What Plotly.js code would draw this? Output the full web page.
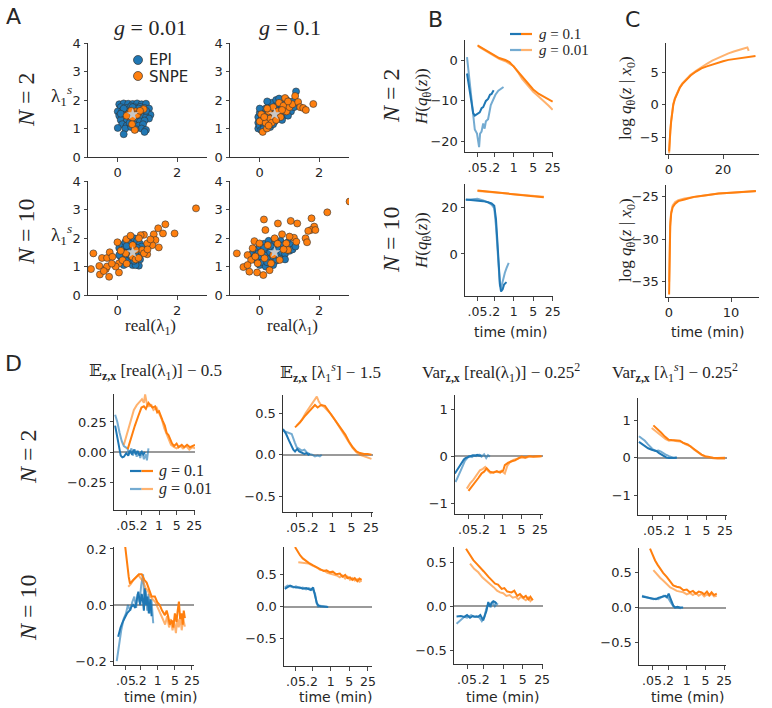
<!DOCTYPE html>
<html><head><meta charset="utf-8">
<script src="https://cdn.plot.ly/plotly-3.0.1.min.js"></script>
<style>html,body{margin:0;padding:0;background:#fff}#chart{width:772px;height:708px}</style>
</head><body><div id="chart"></div>
<script>
// ---------------- Panel A : posterior samples ----------------
const A1_epi_x = [0.05,0.2,0.35,0.5,0.65,0.8,0.95,0.1,0.3,0.45,0.6,0.75,0.9,1.05,0.0,0.15,0.25,0.4,0.55,0.7,0.85,1.0,1.1,0.05,0.2,0.35,0.65,0.8,0.95,1.05,0.1,0.3,0.45,0.6,0.75,0.9,0.15,0.3,0.55,0.7,0.85,0.0,0.25,0.45,0.8,0.95,0.2,0.9,0.6,0.4,0.7,0.5,0.2,0.95,0.1];
const A1_epi_y = [1.85,1.88,1.87,1.86,1.88,1.85,1.87,1.75,1.72,1.78,1.74,1.76,1.72,1.7,1.6,1.62,1.55,1.6,1.65,1.6,1.58,1.55,1.48,1.45,1.4,1.38,1.42,1.45,1.4,1.35,1.3,1.25,1.28,1.3,1.25,1.28,1.15,1.1,1.15,1.1,1.15,1.02,1.0,1.05,1.0,0.95,0.8,0.88,0.98,1.2,1.7,1.75,1.7,1.62,1.52];
const A1_snpe_x = [0.35,0.45,0.55,0.6,0.4,0.7,0.87,0.5,0.3,0.65,0.57,0.48,0.75,0.45];
const A1_snpe_y = [1.5,1.55,1.45,1.6,1.42,1.55,1.68,1.38,1.45,1.48,0.95,1.15,1.62,1.62];

const A2_epi_x = [-0.05,-0.05,-0.05,0.0,0.0,0.05,0.05,0.1,0.1,0.15,0.15,0.2,0.2,0.25,0.3,0.3,0.35,0.4,0.4,0.45,0.5,0.5,0.55,0.6,0.6,0.65,0.7,0.7,0.75,0.8,0.85,0.85,0.9,0.95,1.0,1.05,1.1,1.15,1.22,0.25,0.55,0.35,0.0,0.12,0.45,0.75,0.95,0.65];
const A2_epi_y = [1.0,1.2,1.4,1.55,1.1,1.3,0.95,1.45,1.2,1.05,1.6,1.35,1.7,1.15,1.5,1.8,1.3,1.6,1.9,1.4,1.7,1.25,1.55,1.85,1.35,1.65,1.95,1.5,1.75,1.45,1.9,1.6,2.0,1.7,1.85,1.6,1.95,1.75,2.3,1.95,2.0,1.05,1.7,0.98,1.15,1.3,1.45,2.05];
const A2_snpe_x = [0.1,0.24,0.0,0.05,0.2,0.3,0.35,0.45,0.5,0.6,0.65,0.7,0.8,0.85,0.9,1.0,1.1,1.19,1.29,1.36,1.46,1.55,1.8,0.4,0.15,0.55,0.25,0.75,0.95,0.3];
const A2_snpe_y = [0.88,1.0,1.25,1.5,1.2,1.6,1.35,1.75,1.5,1.6,1.9,1.4,1.8,2.07,1.6,1.75,1.85,2.14,1.93,1.75,1.72,1.65,1.86,1.2,1.4,1.3,1.7,1.65,1.95,1.1];

const A3_epi_x = [0.05,0.1,0.1,0.15,0.15,0.2,0.2,0.25,0.25,0.3,0.3,0.35,0.35,0.4,0.4,0.45,0.45,0.5,0.5,0.55,0.55,0.6,0.6,0.65,0.65,0.7,0.71,0.75,0.75,0.8,0.2,0.35,0.5,0.3,0.6,0.8,0.45,0.05,0.65,0.55];
const A3_epi_y = [1.65,1.5,1.35,1.75,1.2,1.6,1.4,1.85,1.1,1.5,1.3,1.7,1.95,1.4,1.15,1.6,1.8,1.3,1.05,1.99,1.55,1.75,1.2,1.4,1.9,1.6,1.03,1.25,1.8,1.5,1.05,1.2,1.7,1.72,1.05,1.7,1.35,1.4,1.65,1.2];
const A3_snpe_x = [2.63,1.91,1.6,1.36,1.52,1.21,1.27,1.38,1.16,0.99,0.88,0.82,0.99,-0.82,-0.9,-0.62,-0.6,-0.29,-0.4,-0.53,-0.36,-0.27,-0.01,-0.18,0.04,0.04,0.29,0.43,0.77,0.71,0.6,0.49,0.27,0.16,0.88,-0.07,-0.36,-0.47,1.0,0.6,0.3,0.1,1.1,0.7,-0.2,0.5];
const A3_snpe_y = [3.04,2.16,2.48,2.34,2.16,2.13,1.93,1.67,1.75,1.81,2.11,1.58,1.43,1.46,0.91,1.02,0.72,0.64,0.91,1.3,1.3,1.5,1.85,1.34,0.79,1.11,1.96,2.08,2.1,1.99,1.58,1.34,1.46,1.22,1.46,1.0,1.0,0.84,1.6,1.25,1.1,1.55,1.95,1.3,1.1,1.75];

const A4_epi_x = [-0.25,-0.2,-0.15,-0.1,-0.05,0.0,0.0,0.05,0.1,0.1,0.15,0.2,0.2,0.25,0.3,0.3,0.35,0.4,0.4,0.45,0.5,0.5,0.55,0.6,0.6,0.65,0.7,0.7,0.75,0.8,0.85,0.9,0.95,1.0,1.05,1.1,1.2,0.25,0.55,0.85,0.15,0.45];
const A4_epi_y = [1.45,1.3,1.6,1.2,1.45,1.7,1.05,1.35,1.55,1.15,1.8,1.4,1.0,1.6,1.25,1.9,1.5,1.7,1.1,1.35,1.95,1.55,1.2,1.75,1.4,1.6,1.9,1.3,1.5,1.75,1.45,1.65,1.85,1.55,1.75,1.6,1.7,1.15,1.85,1.25,1.65,1.05];
const A4_snpe_x = [3.02,2.27,1.74,1.83,1.72,1.87,1.63,1.54,1.59,1.26,1.04,0.61,0.14,0.19,0.75,1.15,1.23,-0.77,-0.55,-0.35,-0.09,0.12,0.33,-0.18,-0.01,-0.24,-0.41,-0.29,-0.07,-0.41,0.16,0.38,0.67,0.95,0.89,0.5,0.27,0.05,0.45,0.8,-0.15,0.6,1.0];
const A4_snpe_y = [3.28,2.9,2.69,2.4,2.28,2.28,2.25,1.99,1.85,2.51,2.6,2.51,2.65,2.28,2.13,2.01,1.87,1.46,0.98,0.82,0.79,0.7,0.87,1.89,1.81,1.64,1.4,1.23,1.11,1.05,1.29,1.11,1.23,1.58,1.81,1.99,1.75,1.5,1.4,1.6,1.35,1.8,2.05];
const truth_x = [0.5];
const truth_y = [1.5];

// ---------------- Panel B : entropy vs time (min) ----------------
const B1_epiHi_t = [0.021,0.025,0.03,0.035,0.04,0.05,0.06,0.07,0.08,0.1,0.12,0.14,0.16,0.19];
const B1_epiHi_v = [-3.3,-7,-11,-13,-13.6,-13.2,-12.8,-11.8,-11.5,-10,-9.5,-8.5,-8.3,-7.4];
const B1_epiLo_t = [0.021,0.024,0.028,0.033,0.04,0.048,0.053,0.057,0.062,0.07,0.08,0.09,0.1,0.12,0.15,0.18,0.22,0.28,0.35,0.43];
const B1_epiLo_v = [0.7,-3,-8,-13,-17,-18,-20,-21.3,-18,-17.5,-15.5,-16.8,-15,-14.5,-11,-9.8,-8.5,-7.5,-7,-6.6];
const B1_snpeHi_t = [0.05,0.08,0.12,0.2,0.3,0.5,0.7,1,1.5,2,3,5,8,12,18,25];
const B1_snpeHi_v = [3.6,2.8,2.2,1.3,0.5,0,-0.5,-1.6,-3,-4.2,-5.6,-7.2,-8.3,-9,-9.6,-10.2];
const B1_snpeLo_t = [0.055,0.08,0.12,0.2,0.3,0.5,0.7,1,1.5,2,3,5,8,12,18,25];
const B1_snpeLo_v = [3.3,2.6,2.0,1.0,0.3,-0.3,-0.8,-1.5,-3.2,-4.6,-6,-7.8,-9,-10,-11.2,-12.2];

const B2_epiHi_t = [0.019,0.03,0.05,0.08,0.12,0.16,0.2,0.23,0.26,0.29,0.32,0.35,0.4,0.45,0.5,0.55];
const B2_epiHi_v = [23.2,23,22.8,22.5,22,21.5,20.5,15,5,-5,-13,-16,-15,-13,-12.5,-12];
const B2_epiLo_t = [0.019,0.03,0.05,0.08,0.12,0.16,0.2,0.23,0.26,0.29,0.32,0.36,0.42,0.48,0.55,0.62,0.66];
const B2_epiLo_v = [23,23.3,23.5,22.8,22,21,19.5,12,2,-8,-13.5,-14,-10,-8,-6,-4.5,-3.8];
const B2_snpeHi_t = [0.05,0.1,0.2,0.5,1,2,5,12];
const B2_snpeHi_v = [27,26.6,26.2,25.7,25.3,25,24.6,24.2];
const B2_snpeLo_t = [0.05,0.1,0.2,0.5,1,2,5,12];
const B2_snpeLo_v = [26.8,26.5,26.1,25.6,25.3,24.9,24.6,24.4];

// ---------------- Panel C : log q(z|x0) vs time (min) ----------------
const C1_hi_t = [0.05,0.15,0.3,0.5,0.8,1.2,1.6,2.2,3,4,5,6.5,8,10,12,14,16,18,20,22,24,26,28,30,32];
const C1_hi_v = [-7.2,-6,-5.2,-4,-2.6,-1,0,0.9,1.8,2.6,3.2,3.9,4.5,5.1,5.6,5.9,6.2,6.5,6.7,6.9,7.0,7.2,7.3,7.4,7.5];
const C1_lo_t = [0.05,0.15,0.3,0.5,0.8,1.2,1.6,2.2,3,4,5,6.5,8,10,12,14,16,18,20,22,24,26,28,29,29.5];
const C1_lo_v = [-7.5,-6.2,-5.3,-4.1,-2.5,-1.1,0.1,1.0,1.9,2.7,3.3,3.9,4.6,5.2,5.8,6.3,6.8,7.2,7.5,7.9,8.2,8.5,8.7,8.8,8.3];
const C2_hi_t = [0.02,0.1,0.2,0.35,0.6,1,1.5,2.5,4,6,8,10,12,14];
const C2_hi_v = [-36.5,-31,-28.5,-27,-26.2,-25.8,-25.5,-25.3,-25.0,-24.8,-24.6,-24.5,-24.4,-24.3];
const C2_lo_t = [0.02,0.1,0.2,0.35,0.6,1,1.5,2.5,4,6,8,10,12,14];
const C2_lo_v = [-35,-30,-28,-26.8,-26,-25.6,-25.4,-25.2,-25.0,-24.8,-24.6,-24.5,-24.4,-24.35];

// ---------------- Panel D : moment errors vs time (min) ----------------
const D1_epiHi_t = [0.018,0.022,0.026,0.03,0.035,0.04,0.05,0.06,0.07,0.085,0.1,0.12,0.14,0.17,0.2,0.24,0.28];
const D1_epiHi_v = [0.22,0.12,0.03,-0.03,-0.045,-0.04,-0.01,-0.03,0.01,-0.02,0.02,-0.02,0.01,-0.03,0.0,-0.02,0.0];
const D1_epiLo_t = [0.018,0.022,0.027,0.033,0.04,0.045,0.055,0.065,0.08,0.09,0.11,0.13,0.15,0.18,0.21,0.25,0.3,0.33,0.38];
const D1_epiLo_v = [0.31,0.25,0.16,0.09,0.05,0.04,0.03,-0.01,0.03,-0.03,0.02,-0.04,0.0,-0.05,0.01,-0.06,-0.02,-0.07,0.03];
const D1_snpeHi_t = [0.057,0.08,0.11,0.15,0.2,0.25,0.3,0.38,0.45,0.55,0.7,0.85,1.0,1.2,1.4,1.7,2.0,2.4,2.8,3.3,4,5,6,8,10,13,17,22,27];
const D1_snpeHi_v = [0.024,0.13,0.22,0.3,0.37,0.38,0.36,0.41,0.39,0.37,0.38,0.33,0.34,0.29,0.26,0.22,0.16,0.14,0.1,0.07,0.05,0.07,0.04,0.06,0.04,0.06,0.04,0.05,0.06];
const D1_snpeLo_t = [0.04,0.06,0.08,0.1,0.13,0.17,0.21,0.25,0.28,0.33,0.4,0.5,0.6,0.8,1.0,1.3,1.6,2.0,2.5,3,4,5,7,9,12,16,21,27];
const D1_snpeLo_v = [0.06,0.18,0.28,0.35,0.39,0.42,0.44,0.41,0.48,0.4,0.38,0.39,0.35,0.37,0.32,0.27,0.2,0.15,0.11,0.06,0.04,0.03,0.05,0.03,0.05,0.02,0.04,0.03];

const D2_epiHi_t = [0.017,0.022,0.028,0.034,0.04,0.046,0.055,0.065,0.08,0.1,0.12,0.14,0.16];
const D2_epiHi_v = [0.31,0.25,0.17,0.1,0.06,0.04,0.07,0.04,0.03,0.01,0.02,0.0,0.01];
const D2_epiLo_t = [0.017,0.025,0.035,0.045,0.053,0.065,0.08,0.1,0.12,0.15,0.19,0.24,0.3,0.36,0.42];
const D2_epiLo_v = [0.29,0.27,0.25,0.15,0.09,0.07,0.05,0.06,0.03,0.01,0.0,-0.02,-0.01,-0.02,0.0];
const D2_snpeHi_t = [0.046,0.07,0.1,0.15,0.2,0.24,0.3,0.4,0.55,0.7,0.9,1.2,1.6,2.2,3.0,4,5.5,7.5,10,14,19,26];
const D2_snpeHi_v = [0.33,0.39,0.46,0.53,0.57,0.6,0.57,0.6,0.59,0.54,0.5,0.44,0.37,0.3,0.24,0.16,0.09,0.04,0.02,0.01,0.01,0.0];
const D2_snpeLo_t = [0.053,0.08,0.11,0.15,0.2,0.25,0.28,0.33,0.4,0.5,0.7,0.9,1.2,1.6,2.2,3,4,5.5,7.5,10,14,19,26];
const D2_snpeLo_v = [0.35,0.42,0.5,0.57,0.63,0.67,0.7,0.64,0.6,0.58,0.53,0.49,0.43,0.36,0.29,0.22,0.15,0.08,0.03,0.0,-0.02,-0.04,-0.05];

const D3_epiHi_t = [0.016,0.02,0.025,0.03,0.035,0.04,0.05,0.06,0.075,0.09,0.11,0.13,0.16];
const D3_epiHi_v = [-0.37,-0.28,-0.2,-0.12,-0.07,-0.04,-0.02,0.0,0.02,0.01,0.03,0.01,0.02];
const D3_epiLo_t = [0.017,0.021,0.026,0.032,0.038,0.045,0.055,0.07,0.085,0.1,0.13,0.16,0.2,0.24,0.28,0.33];
const D3_epiLo_v = [-0.55,-0.45,-0.32,-0.2,-0.1,-0.05,0.0,-0.02,0.02,0.0,0.03,-0.01,0.04,-0.04,0.02,-0.01];
const D3_snpeHi_t = [0.052,0.07,0.09,0.12,0.16,0.2,0.25,0.33,0.45,0.6,0.8,1.05,1.2,1.6,2.2,2.9,4,5.1,7,10,14,20,29];
const D3_snpeHi_v = [-0.74,-0.65,-0.56,-0.47,-0.37,-0.33,-0.26,-0.33,-0.35,-0.32,-0.35,-0.3,-0.19,-0.14,-0.11,-0.09,-0.04,-0.01,-0.03,0.0,-0.01,0.0,0.0];
const D3_snpeLo_t = [0.045,0.06,0.08,0.1,0.14,0.18,0.22,0.28,0.35,0.5,0.7,0.9,1.2,1.5,1.9,2.5,3.5,5,7,10,14,20,26];
const D3_snpeLo_v = [-0.69,-0.58,-0.5,-0.42,-0.3,-0.27,-0.23,-0.31,-0.36,-0.33,-0.34,-0.31,-0.37,-0.2,-0.12,-0.08,-0.05,-0.03,-0.04,-0.01,-0.02,0.0,0.0];

const D4_epiHi_t = [0.015,0.02,0.026,0.033,0.045,0.055,0.069,0.085,0.107,0.13,0.16,0.2,0.26,0.32,0.39];
const D4_epiHi_v = [0.42,0.36,0.3,0.25,0.21,0.19,0.17,0.12,0.08,0.04,0.0,-0.01,0.0,-0.01,0.0];
const D4_epiLo_t = [0.015,0.02,0.025,0.032,0.04,0.05,0.065,0.08,0.1,0.13,0.16,0.2,0.25,0.3,0.39];
const D4_epiLo_v = [0.57,0.5,0.45,0.36,0.28,0.22,0.18,0.19,0.16,0.1,0.07,0.04,0.02,-0.01,0.01];
const D4_snpeHi_t = [0.052,0.07,0.1,0.14,0.19,0.25,0.33,0.42,0.51,0.65,0.8,1.0,1.2,1.6,2.2,3.3,4.5,6,9,13,18,25];
const D4_snpeHi_v = [0.86,0.78,0.67,0.56,0.48,0.47,0.46,0.47,0.45,0.4,0.38,0.35,0.31,0.24,0.16,0.08,0.04,0.02,0.0,-0.01,0.0,0.0];
const D4_snpeLo_t = [0.045,0.06,0.08,0.11,0.15,0.2,0.27,0.35,0.45,0.6,0.8,1.0,1.3,1.7,2.3,3.3,4.5,6,9,13,18,25];
const D4_snpeLo_v = [0.79,0.72,0.64,0.56,0.49,0.45,0.46,0.44,0.43,0.42,0.36,0.33,0.3,0.22,0.14,0.07,0.02,0.0,-0.02,-0.03,-0.03,-0.03];

const D5_epiHi_t = [0.024,0.03,0.037,0.045,0.055,0.073,0.085,0.1,0.12,0.14,0.16,0.19,0.22,0.25,0.27,0.3,0.34,0.38,0.43,0.5,0.56];
const D5_epiHi_v = [-0.113,-0.08,-0.06,-0.042,-0.03,-0.018,-0.005,0.0,-0.01,0.02,0.048,0.0,0.04,0.01,-0.02,0.06,0.0,0.03,-0.03,0.02,-0.04];
const D5_epiLo_t = [0.021,0.026,0.032,0.04,0.05,0.06,0.075,0.09,0.11,0.13,0.15,0.18,0.21,0.25,0.28,0.32,0.37,0.42,0.48,0.55,0.65];
const D5_epiLo_v = [-0.2,-0.14,-0.09,-0.05,-0.03,0.0,-0.02,0.01,0.03,-0.01,0.04,0.01,0.07,0.11,0.02,0.05,-0.02,0.04,-0.03,0.02,-0.065];
const D5_snpeHi_t = [0.045,0.055,0.065,0.073,0.09,0.11,0.136,0.17,0.22,0.28,0.35,0.45,0.56,0.76,0.95,1.2,1.5,1.95,2.3,2.65,3.1,3.7,4.3,5,5.8,6.5,7.3,8.2,9.3,10.5,11.5,12.8];
const D5_snpeHi_v = [0.22,0.15,0.1,0.077,0.085,0.095,0.1,0.11,0.11,0.09,0.08,0.05,0.03,0.03,0.01,0.0,-0.02,-0.036,-0.02,-0.04,-0.07,-0.054,-0.08,-0.03,-0.06,-0.02,0.012,-0.05,-0.03,-0.07,-0.02,-0.047];
const D5_snpeLo_t = [0.062,0.08,0.1,0.13,0.16,0.2,0.25,0.32,0.4,0.5,0.65,0.8,1.0,1.3,1.6,2.0,2.4,2.9,3.4,4,4.7,5.5,6.3,7.2,8.2,9.5,11,12.8];
const D5_snpeLo_v = [0.065,0.075,0.09,0.1,0.107,0.095,0.085,0.06,0.05,0.03,0.02,0.01,-0.01,-0.03,-0.05,-0.07,-0.04,-0.08,-0.05,-0.09,-0.06,-0.1,-0.05,-0.08,-0.04,-0.09,-0.05,-0.077];

const D6_epiHi_t = [0.019,0.024,0.03,0.04,0.05,0.07,0.09,0.12,0.15,0.18,0.22,0.26,0.3,0.34,0.42,0.55,0.81];
const D6_epiHi_v = [0.28,0.31,0.33,0.31,0.3,0.3,0.28,0.29,0.28,0.26,0.3,0.17,0.06,0.02,0.0,0.0,-0.01];
const D6_epiLo_t = [0.019,0.024,0.03,0.04,0.05,0.07,0.09,0.12,0.15,0.18,0.22,0.26,0.3,0.34,0.42,0.55,0.75];
const D6_epiLo_v = [0.3,0.33,0.32,0.3,0.32,0.29,0.3,0.27,0.29,0.28,0.26,0.2,0.05,0.0,0.01,0.0,0.0];
const D6_snpeHi_t = [0.046,0.055,0.071,0.09,0.11,0.15,0.22,0.3,0.4,0.55,0.7,0.94,1.2,1.6,2.2,2.8,3.5,4.3,5.3,6.5,8,10,12,14.5];
const D6_snpeHi_v = [0.94,0.88,0.81,0.76,0.73,0.69,0.65,0.62,0.6,0.56,0.57,0.54,0.55,0.51,0.52,0.47,0.5,0.45,0.46,0.42,0.45,0.4,0.44,0.42];
const D6_snpeLo_t = [0.061,0.08,0.11,0.145,0.2,0.29,0.4,0.55,0.75,1.0,1.3,1.7,2.2,2.8,3.5,4.3,5.3,6.5,8,10,12,14.5];
const D6_snpeLo_v = [0.7,0.69,0.69,0.68,0.65,0.62,0.58,0.57,0.53,0.52,0.5,0.49,0.46,0.49,0.44,0.47,0.42,0.45,0.41,0.43,0.39,0.41];

const D7_epiHi_t = [0.021,0.03,0.04,0.05,0.064,0.08,0.1,0.125,0.15,0.19,0.22,0.25,0.29,0.33,0.38,0.44,0.51,0.58];
const D7_epiHi_v = [-0.115,-0.11,-0.12,-0.1,-0.13,-0.11,-0.12,-0.12,-0.1,-0.16,-0.1,-0.05,0.05,0.0,0.04,0.06,0.05,0.03];
const D7_epiLo_t = [0.021,0.03,0.04,0.05,0.07,0.09,0.11,0.14,0.17,0.21,0.25,0.3,0.35,0.42,0.5,0.58,0.65];
const D7_epiLo_v = [-0.2,-0.15,-0.12,-0.13,-0.1,-0.12,-0.11,-0.13,-0.17,-0.12,-0.02,0.03,-0.01,0.05,0.0,0.03,0.02];
const D7_snpeHi_t = [0.046,0.06,0.084,0.11,0.146,0.2,0.29,0.38,0.51,0.65,0.88,1.1,1.4,2.0,2.5,3.2,4,5.3,6.5,8,9.5,11.5];
const D7_snpeHi_v = [0.66,0.6,0.53,0.49,0.45,0.4,0.34,0.3,0.26,0.25,0.2,0.21,0.17,0.16,0.18,0.12,0.14,0.1,0.12,0.08,0.11,0.07];
const D7_snpeLo_t = [0.064,0.09,0.127,0.18,0.25,0.33,0.45,0.6,0.77,1.0,1.3,1.7,2.2,2.8,3.5,4.3,5.2,6.5,8,9.5,11.5];
const D7_snpeLo_v = [0.49,0.43,0.39,0.33,0.29,0.26,0.22,0.18,0.16,0.15,0.12,0.13,0.1,0.11,0.08,0.11,0.09,0.07,0.1,0.06,0.09];

const D8_epiHi_t = [0.021,0.027,0.035,0.045,0.056,0.07,0.085,0.1,0.13,0.16,0.18,0.21,0.24,0.27,0.31,0.36,0.45,0.56,0.73];
const D8_epiHi_v = [0.16,0.15,0.14,0.13,0.13,0.12,0.14,0.15,0.16,0.17,0.15,0.2,0.14,0.08,0.03,0.0,0.01,0.0,0.0];
const D8_epiLo_t = [0.021,0.027,0.035,0.045,0.056,0.07,0.085,0.1,0.12,0.14,0.17,0.2,0.23,0.27,0.31,0.4,0.5,0.6];
const D8_epiLo_v = [0.17,0.16,0.15,0.13,0.12,0.13,0.12,0.14,0.16,0.17,0.15,0.14,0.1,0.05,0.02,0.0,-0.01,-0.01];
const D8_snpeHi_t = [0.042,0.05,0.065,0.08,0.1,0.13,0.18,0.24,0.31,0.42,0.56,0.75,1.0,1.3,1.7,2.2,2.8,3.6,4.5,5.7,7,8.5,10.5,13.3];
const D8_snpeHi_v = [0.85,0.77,0.68,0.62,0.56,0.5,0.44,0.37,0.32,0.3,0.29,0.25,0.26,0.22,0.24,0.2,0.23,0.22,0.19,0.23,0.18,0.22,0.18,0.2];
const D8_snpeLo_t = [0.056,0.075,0.1,0.13,0.18,0.24,0.31,0.42,0.56,0.75,1.0,1.3,1.7,2.2,2.8,3.6,4.5,5.7,7,8.5,10.5,13.3];
const D8_snpeLo_v = [0.54,0.48,0.43,0.39,0.33,0.29,0.27,0.24,0.23,0.22,0.19,0.21,0.18,0.21,0.17,0.2,0.16,0.19,0.17,0.2,0.16,0.17];

// ---------------- tick labels ----------------
const logTickVals = [0.05,0.2,1,5,25];
const logTickText = ['.05','.2','1','5','25'];
const A_xticks = [0,2];
const A_yticks = [0,1,2,3,4];
const B1_yticks = [-20,-10,0], B1_yticktext = ['−20','−10','0'];
const B2_yticks = [0,20], B2_yticktext = ['0','20'];
const C1_xticks = [0,20], C1_yticks = [-5,0,5], C1_yticktext = ['−5','0','5'];
const C2_xticks = [0,10], C2_yticks = [-35,-30,-25], C2_yticktext = ['−35','−30','−25'];
const D1_yticks = [-0.25,0,0.25], D1_yticktext = ['−0.25','0.00','0.25'];
const D5_yticks = [-0.2,0,0.2], D5_yticktext = ['−0.2','0.0','0.2'];
const Dhalf_yticks = [-0.5,0,0.5], Dhalf_yticktext = ['−0.5','0.0','0.5'];
const Done_yticks = [-1,0,1], Done_yticktext = ['−1','0','1'];

// ---------------- styling / layout ----------------
const W = 772, H = 708;
const BLUE = '#1f77b4', BLUE_L = 'rgba(31,119,180,0.62)';
const ORG = '#ff7f0e', ORG_L = 'rgba(255,127,14,0.6)';
const SERIF = 'Liberation Serif, DejaVu Serif, serif';
const SANS = 'DejaVu Sans, sans-serif';
const INK = '#262626';

const axes = [
  {k:'',   px:[88,207],  py:[43,157],  xr:[-1,3], yr:[0,4], xt:A_xticks, yt:A_yticks},
  {k:'2',  px:[230,349], py:[43,157],  xr:[-1,3], yr:[0,4], xt:A_xticks, yt:A_yticks},
  {k:'3',  px:[88,207],  py:[181,295], xr:[-1,3], yr:[0,4], xt:A_xticks, yt:A_yticks},
  {k:'4',  px:[230,349], py:[181,295], xr:[-1,3], yr:[0,4], xt:A_xticks, yt:A_yticks},
  {k:'5',  px:[465,553], py:[40,152],  log:true, xr:[-1.75,1.41], yr:[-22.5,4.9], yt:B1_yticks, ytt:B1_yticktext},
  {k:'6',  px:[465,553], py:[184,296], log:true, xr:[-1.75,1.41], yr:[-17.9,29.8], yt:B2_yticks, ytt:B2_yticktext},
  {k:'7',  px:[666,759], py:[43,154],  xr:[-1.1,33.3], yr:[-7.6,9.5], xt:C1_xticks, yt:C1_yticks, ytt:C1_yticktext},
  {k:'8',  px:[666,759], py:[185,297], xr:[-0.48,14.5], yr:[-36.8,-23.6], xt:C2_xticks, yt:C2_yticks, ytt:C2_yticktext},
  {k:'9',  px:[114,195], py:[394,510], log:true, xr:[-1.79,1.43], yr:[-0.483,0.483], yt:D1_yticks, ytt:D1_yticktext, zero:true},
  {k:'10', px:[283,373], py:[395,512], log:true, xr:[-1.77,1.47], yr:[-0.69,0.72], yt:Dhalf_yticks, ytt:Dhalf_yticktext, zero:true},
  {k:'11', px:[455,543], py:[395,514], log:true, xr:[-1.79,1.51], yr:[-1.23,1.3], yt:Done_yticks, ytt:Done_yticktext, zero:true},
  {k:'12', px:[638,727], py:[398,515], log:true, xr:[-1.86,1.47], yr:[-1.53,1.59], yt:Done_yticks, ytt:Done_yticktext, zero:true},
  {k:'13', px:[114,194], py:[547,665], log:true, xr:[-1.79,1.48], yr:[-0.214,0.207], yt:D5_yticks, ytt:D5_yticktext, zero:true},
  {k:'14', px:[284,372], py:[547,666], log:true, xr:[-1.75,1.55], yr:[-0.94,0.94], yt:Dhalf_yticks, ytt:Dhalf_yticktext, zero:true},
  {k:'15', px:[454,543], py:[547,664], log:true, xr:[-1.77,1.43], yr:[-0.66,0.68], yt:Dhalf_yticks, ytt:Dhalf_yticktext, zero:true},
  {k:'16', px:[639,726], py:[548,665], log:true, xr:[-1.79,1.47], yr:[-0.83,0.86], yt:Dhalf_yticks, ytt:Dhalf_yticktext, zero:true}
];

const layout = {
  width: W, height: H, margin:{l:0,r:0,t:0,b:0},
  paper_bgcolor:'#fff', plot_bgcolor:'rgba(0,0,0,0)',
  showlegend:false, font:{family:SANS, color:INK, size:13},
  annotations:[], shapes:[]
};
const tickFont = {family:SANS, size:13, color:INK};
const logTickFont = {family:SANS, size:12.5, color:INK};
axes.forEach(a => {
  const base = {showline:true, linecolor:'#333', linewidth:1, ticks:'outside', ticklen:3.5, tickwidth:0.9,
    tickcolor:'#333', showgrid:false, zeroline:false, tickfont:tickFont, mirror:false, fixedrange:true,
    tickangle:0, automargin:false};
  const xa = Object.assign({}, base, {domain:[a.px[0]/W, a.px[1]/W], anchor:'y'+a.k, range:a.xr});
  if (a.log) { xa.type='log'; xa.tickmode='array'; xa.tickvals=logTickVals; xa.ticktext=logTickText; xa.tickfont=logTickFont; }
  else { xa.tickmode='array'; xa.tickvals=a.xt; xa.ticktext=a.xt.map(String); }
  const ya = Object.assign({}, base, {domain:[1-a.py[1]/H, 1-a.py[0]/H], anchor:'x'+a.k, range:a.yr,
    tickmode:'array', tickvals:a.yt, ticktext:a.ytt || a.yt.map(String)});
  if (a.zero) { ya.zeroline=true; ya.zerolinecolor='#9a9a9a'; ya.zerolinewidth=2; }
  layout['xaxis'+a.k] = xa; layout['yaxis'+a.k] = ya;
});

const traces = [];
function scat(x, y, k, color) {
  traces.push({type:'scatter', mode:'markers', x:x, y:y, xaxis:'x'+k, yaxis:'y'+k,
    marker:{size:7, color:color, line:{color:'#333', width:0.6}}, hoverinfo:'skip'});
}
function star(k) {
  traces.push({type:'scatter', mode:'markers', x:truth_x, y:truth_y, xaxis:'x'+k, yaxis:'y'+k,
    marker:{size:9, symbol:'star', color:'#c8c8c8', line:{width:0}}, hoverinfo:'skip'});
}
function line(t, v, k, color, w) {
  traces.push({type:'scatter', mode:'lines', x:t, y:v, xaxis:'x'+k, yaxis:'y'+k,
    line:{color:color, width:w||2}, hoverinfo:'skip'});
}
// A
scat(A1_epi_x, A1_epi_y, '', BLUE); scat(A1_snpe_x, A1_snpe_y, '', ORG); star('');
scat(A2_epi_x, A2_epi_y, '2', BLUE); scat(A2_snpe_x, A2_snpe_y, '2', ORG); star('2');
scat(A3_epi_x, A3_epi_y, '3', BLUE); scat(A3_snpe_x, A3_snpe_y, '3', ORG); star('3');
scat(A4_epi_x, A4_epi_y, '4', BLUE); scat(A4_snpe_x, A4_snpe_y, '4', ORG); star('4');
// B
line(B1_epiLo_t, B1_epiLo_v, '5', BLUE_L); line(B1_epiHi_t, B1_epiHi_v, '5', BLUE);
line(B1_snpeLo_t, B1_snpeLo_v, '5', ORG_L); line(B1_snpeHi_t, B1_snpeHi_v, '5', ORG);
line(B2_epiLo_t, B2_epiLo_v, '6', BLUE_L); line(B2_epiHi_t, B2_epiHi_v, '6', BLUE);
line(B2_snpeLo_t, B2_snpeLo_v, '6', ORG_L); line(B2_snpeHi_t, B2_snpeHi_v, '6', ORG);
// C
line(C1_lo_t, C1_lo_v, '7', ORG_L); line(C1_hi_t, C1_hi_v, '7', ORG);
line(C2_lo_t, C2_lo_v, '8', ORG_L); line(C2_hi_t, C2_hi_v, '8', ORG);
// D
const Dsets = [
  ['9', D1_epiLo_t, D1_epiLo_v, D1_epiHi_t, D1_epiHi_v, D1_snpeLo_t, D1_snpeLo_v, D1_snpeHi_t, D1_snpeHi_v],
  ['10', D2_epiLo_t, D2_epiLo_v, D2_epiHi_t, D2_epiHi_v, D2_snpeLo_t, D2_snpeLo_v, D2_snpeHi_t, D2_snpeHi_v],
  ['11', D3_epiLo_t, D3_epiLo_v, D3_epiHi_t, D3_epiHi_v, D3_snpeLo_t, D3_snpeLo_v, D3_snpeHi_t, D3_snpeHi_v],
  ['12', D4_epiLo_t, D4_epiLo_v, D4_epiHi_t, D4_epiHi_v, D4_snpeLo_t, D4_snpeLo_v, D4_snpeHi_t, D4_snpeHi_v],
  ['13', D5_epiLo_t, D5_epiLo_v, D5_epiHi_t, D5_epiHi_v, D5_snpeLo_t, D5_snpeLo_v, D5_snpeHi_t, D5_snpeHi_v],
  ['14', D6_epiLo_t, D6_epiLo_v, D6_epiHi_t, D6_epiHi_v, D6_snpeLo_t, D6_snpeLo_v, D6_snpeHi_t, D6_snpeHi_v],
  ['15', D7_epiLo_t, D7_epiLo_v, D7_epiHi_t, D7_epiHi_v, D7_snpeLo_t, D7_snpeLo_v, D7_snpeHi_t, D7_snpeHi_v],
  ['16', D8_epiLo_t, D8_epiLo_v, D8_epiHi_t, D8_epiHi_v, D8_snpeLo_t, D8_snpeLo_v, D8_snpeHi_t, D8_snpeHi_v]
];
Dsets.forEach(s => {
  line(s[1], s[2], s[0], BLUE_L); line(s[3], s[4], s[0], BLUE);
  line(s[5], s[6], s[0], ORG_L); line(s[7], s[8], s[0], ORG);
});

// ---------------- text ----------------
function ann(x, y, text, size, family, opts) {
  layout.annotations.push(Object.assign({xref:'paper', yref:'paper', x:x/W, y:1-y/H, text:text,
    showarrow:false, xanchor:'center', yanchor:'middle', font:{family:family, size:size, color:INK}}, opts||{}));
}
ann(14, 17, 'A', 22, SANS); ann(435, 20, 'B', 22, SANS); ann(632, 20, 'C', 22, SANS); ann(14, 363, 'D', 22, SANS);
ann(150, 28, '<i>g</i> = 0.01', 22, SERIF); ann(290, 28, '<i>g</i> = 0.1', 22, SERIF);
const rot = {textangle:-90};
ann(26, 100, '<i>N</i> = 2', 24, SERIF, rot); ann(26, 232, '<i>N</i> = 10', 24, SERIF, rot);
ann(391, 96, '<i>N</i> = 2', 24, SERIF, rot); ann(391, 240, '<i>N</i> = 10', 24, SERIF, rot);
ann(28, 456, '<i>N</i> = 2', 24, SERIF, rot); ann(28, 607, '<i>N</i> = 10', 24, SERIF, rot);
ann(62, 96, 'λ<sub>1</sub><sup><i>s</i></sup>', 19, SERIF); ann(62, 234, 'λ<sub>1</sub><sup><i>s</i></sup>', 19, SERIF);
ann(150, 327, 'real(λ<sub>1</sub>)', 17, SERIF); ann(292, 327, 'real(λ<sub>1</sub>)', 17, SERIF);
ann(423, 96, '<i>H</i>(<i>q</i><sub>θ</sub>(<i>z</i>))', 17, SERIF, rot);
ann(423, 240, '<i>H</i>(<i>q</i><sub>θ</sub>(<i>z</i>))', 17, SERIF, rot);
ann(627, 98, 'log <i>q</i><sub>θ</sub>(<i>z</i> | <i>x</i><sub>0</sub>)', 17, SERIF, rot);
ann(627, 240, 'log <i>q</i><sub>θ</sub>(<i>z</i> | <i>x</i><sub>0</sub>)', 17, SERIF, rot);
[[510,332],[707,332],[160,697],[335,697],[502,697],[687,697]].forEach(p => ann(p[0], p[1], 'time (min)', 14, SANS));
ann(155, 372, '𝔼<sub><b>z,x</b></sub> [real(λ<sub>1</sub>)] − 0.5', 17, SERIF);
ann(330, 372, '𝔼<sub><b>z,x</b></sub> [λ<sub>1</sub><sup><i>s</i></sup>] − 1.5', 17, SERIF);
ann(501, 372, 'Var<sub><b>z,x</b></sub> [real(λ<sub>1</sub>)] − 0.25<sup>2</sup>', 17, SERIF);
ann(675, 372, 'Var<sub><b>z,x</b></sub> [λ<sub>1</sub><sup><i>s</i></sup>] − 0.25<sup>2</sup>', 17, SERIF);

// legends (decorative shapes + text)
function circ(cx, cy, color) {
  layout.shapes.push({type:'circle', xref:'paper', yref:'paper', x0:(cx-4.5)/W, x1:(cx+4.5)/W,
    y0:1-(cy+4.5)/H, y1:1-(cy-4.5)/H, fillcolor:color, line:{color:'#333', width:0.7}});
}
function seg(x0, x1, y, color) {
  layout.shapes.push({type:'line', xref:'paper', yref:'paper', x0:x0/W, x1:x1/W, y0:1-y/H, y1:1-y/H,
    line:{color:color, width:2.2}});
}
circ(138, 60, BLUE); circ(138, 76, ORG);
ann(147, 60, 'EPI', 15, SANS, {xanchor:'left'}); ann(147, 77, 'SNPE', 15, SANS, {xanchor:'left'});
seg(510, 521, 34, BLUE); seg(521, 532, 34, ORG); seg(510, 521, 50, BLUE_L); seg(521, 532, 50, ORG_L);
ann(537, 34, '<i>g</i> = 0.1', 15, SERIF, {xanchor:'left'}); ann(537, 50, '<i>g</i> = 0.01', 15, SERIF, {xanchor:'left'});
seg(130, 141.5, 471, BLUE); seg(141.5, 153, 471, ORG); seg(130, 141.5, 489, BLUE_L); seg(141.5, 153, 489, ORG_L);
ann(157, 471, '<i>g</i> = 0.1', 16, SERIF, {xanchor:'left'}); ann(157, 489, '<i>g</i> = 0.01', 16, SERIF, {xanchor:'left'});

Plotly.newPlot('chart', traces, layout, {staticPlot:true, displayModeBar:false});
</script></body></html>
